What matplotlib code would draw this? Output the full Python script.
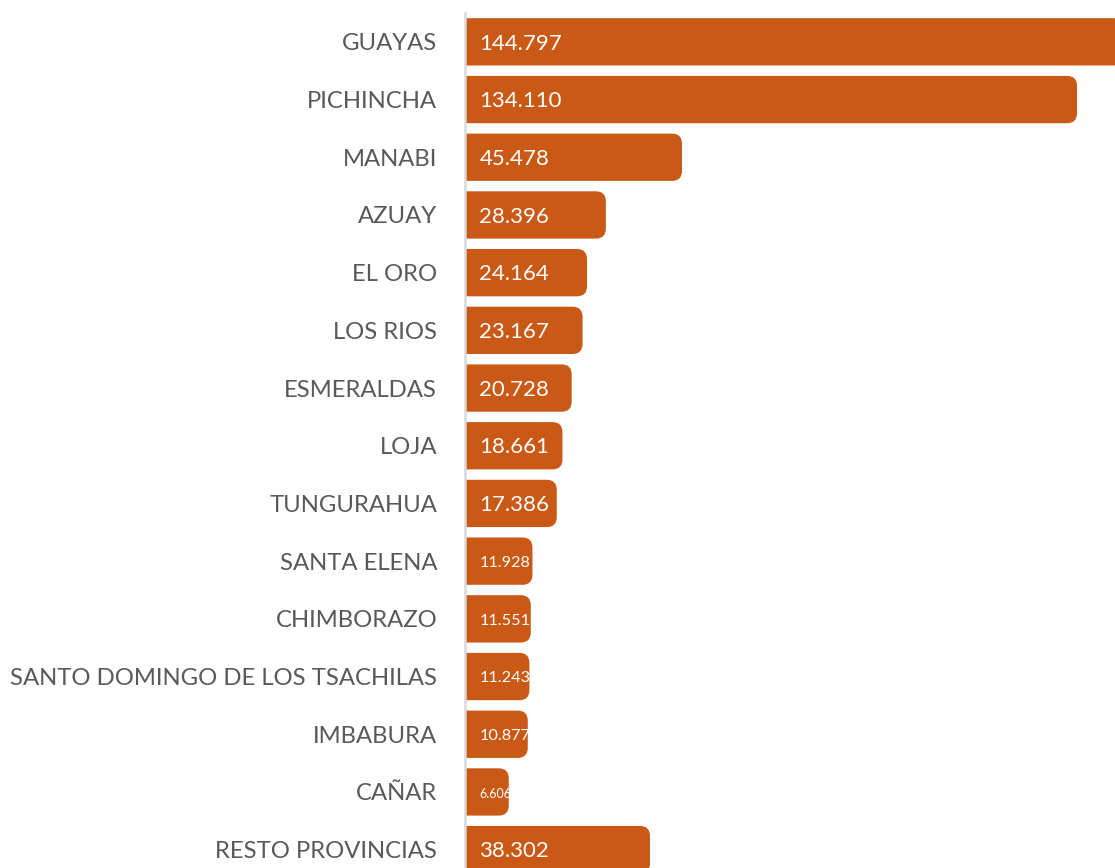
import matplotlib
matplotlib.use("Agg")
import matplotlib.pyplot as plt
from matplotlib.patches import FancyBboxPatch

provinces = ["GUAYAS", "PICHINCHA", "MANABI", "AZUAY", "EL ORO", "LOS RIOS",
             "ESMERALDAS", "LOJA", "TUNGURAHUA", "SANTA ELENA", "CHIMBORAZO",
             "SANTO DOMINGO DE LOS TSACHILAS", "IMBABURA", "CAÑAR", "RESTO PROVINCIAS"]
values = [144.797, 134.110, 45.478, 28.396, 24.164, 23.167, 20.728, 18.661,
          17.386, 11.928, 11.551, 11.243, 10.877, 6.606, 38.302]
labels = ["144.797", "134.110", "45.478", "28.396", "24.164", "23.167", "20.728",
          "18.661", "17.386", "11.928", "11.551", "11.243", "10.877", "6.606", "38.302"]

BAR = "#CA5916"
GREY = "#595959"
plt.rcParams["font.family"] = ["Lato", "DejaVu Sans"]

W, H = 1115, 868
fig = plt.figure(figsize=(W / 100, H / 100), dpi=100)
# axes left edge at 465px, top at 13px; runs past right and bottom edges (cropped like the source)
px_per_row = 57.7
n = len(values)
ax_h = n * px_per_row
ax = fig.add_axes([465 / W, (H - 13 - ax_h) / H, 650 / W, ax_h / H])

px_per_unit = 4.457
x_lo = -14.3 / px_per_unit
ax.set_xlim(x_lo, x_lo + 650 / px_per_unit)
ax.set_ylim(n - 0.5, -0.5)

bar_h = 0.82
r_px = 10
rx = r_px / px_per_unit
ry = r_px / px_per_row
for i, v in enumerate(values):
    left = x_lo - 2 * rx
    patch = FancyBboxPatch((left, i - bar_h / 2), v - left, bar_h,
                           boxstyle=f"round,pad=0,rounding_size={rx}",
                           mutation_aspect=ry / rx,
                           facecolor=BAR, edgecolor="none", zorder=2)
    ax.add_patch(patch)
    fs = 16 if v > 15 else (11.7 if v > 8 else 9)
    t = ax.text(0, i + 0.03, labels[i], color="white", fontsize=fs,
                ha="left", va="center", zorder=3)
    t.set_clip_path(patch)

ax.set_yticks(range(n))
ax.set_yticklabels(provinces, fontsize=17.2, color=GREY)
ax.tick_params(axis="y", length=0, pad=20)
ax.set_xticks([])
for s in ["top", "right", "bottom"]:
    ax.spines[s].set_visible(False)
ax.spines["left"].set_color("#D9D9D9")
ax.spines["left"].set_linewidth(1.8)
ax.spines["left"].set_zorder(4)

fig.savefig("out.png", dpi=100)
